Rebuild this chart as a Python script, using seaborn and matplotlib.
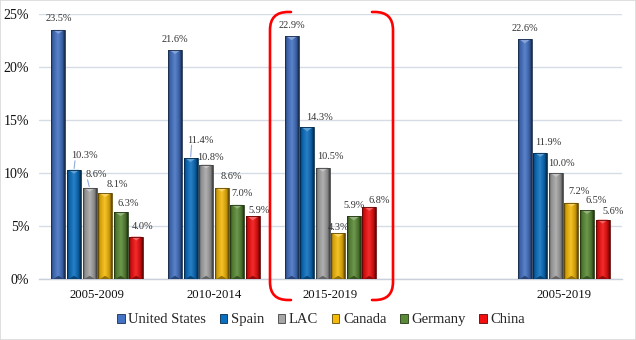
import numpy as np
import pandas as pd
import matplotlib
matplotlib.use("Agg")
import matplotlib.pyplot as plt
import seaborn as sns
from matplotlib.colors import LinearSegmentedColormap, to_rgb
from matplotlib.patches import Patch, Polygon, Rectangle, PathPatch
from matplotlib.path import Path
from matplotlib.transforms import IdentityTransform

# ---- data -------------------------------------------------------------
periods = ["2005-2009", "2010-2014", "2015-2019", " ", "2005-2019"]
shown_periods = ["2005-2009", "2010-2014", "2015-2019", "2005-2019"]
countries = ["United States", "Spain", "LAC", "Canada", "Germany", "China"]
united_states = [23.5, 21.6, 22.9, 22.6]
spain = [10.3, 11.4, 14.3, 11.9]
lac = [8.6, 10.8, 10.5, 10.0]
canada = [8.1, 8.6, 4.3, 7.2]
germany = [6.3, 7.0, 5.9, 6.5]
china = [4.0, 5.9, 6.8, 5.6]
y_ticks = [0, 5, 10, 15, 20, 25]

series = [united_states, spain, lac, canada, germany, china]
df = pd.DataFrame(
    [(p, c, v) for c, vals in zip(countries, series) for p, v in zip(shown_periods, vals)],
    columns=["period", "country", "share"],
)

# ---- style ------------------------------------------------------------
colors = ["#4472C4", "#0B6FC0", "#A6A6A6", "#F5BA0A", "#5A8A36", "#F20F0F"]
W, H, DPI = 636, 340, 100

# label offsets in pixels: (dx, dy above bar top, leader line)
label_offsets = {
    ("2005-2009", "Spain"): (10, 14, True),
    ("2005-2009", "LAC"): (7, 13, True),
    ("2005-2009", "Canada"): (12, 9, False),
    ("2005-2009", "Germany"): (8, 9, False),
    ("2005-2009", "China"): (6, 10, False),
    ("2010-2014", "Spain"): (10, 18, True),
    ("2010-2014", "LAC"): (4, 7, False),
    ("2010-2014", "Canada"): (10, 11, False),
    ("2010-2014", "Germany"): (5, 11, False),
    ("2010-2014", "China"): (6, 6, False),
    ("2015-2019", "Spain"): (12, 10, False),
    ("2015-2019", "LAC"): (8, 11, False),
    ("2015-2019", "Canada"): (0, 6, False),
    ("2015-2019", "Germany"): (0, 11, False),
    ("2015-2019", "China"): (10, 6, False),
    ("2005-2019", "Spain"): (8, 10, False),
    ("2005-2019", "LAC"): (6, 10, False),
    ("2005-2019", "Canada"): (8, 11, False),
    ("2005-2019", "Germany"): (9, 10, False),
    ("2005-2019", "China"): (11, 8, False),
}

sns.set_theme(style="white")
plt.rcParams["font.family"] = ["Liberation Serif", "DejaVu Serif"]

fig = plt.figure(figsize=(W / DPI, H / DPI), dpi=DPI)
ax_left, ax_right, ax_top, ax_bottom = 39, 622, 14, 279
ax = fig.add_axes([ax_left / W, 1 - ax_bottom / H,
                   (ax_right - ax_left) / W, (ax_bottom - ax_top) / H])

sns.barplot(data=df, x="period", y="share", hue="country", order=periods,
            hue_order=countries, palette=colors, saturation=1, width=0.8,
            gap=0.1, legend=False, ax=ax, edgecolor="none", linewidth=0)

ax.set_xlim(-0.5, len(periods) - 0.5)
ax.set_ylim(0, 25)
px_y = 25 / (ax_bottom - ax_top)          # data units per pixel (vertical)


def shade(c, f):
    r = np.array(to_rgb(c))
    return tuple(np.clip(r * f, 0, 1)) if f < 1 else tuple(r + (1 - r) * (f - 1))


# bevelled bars
for container, col in zip(ax.containers, colors):
    cmap = LinearSegmentedColormap.from_list(
        "bev", [(0, shade(col, 0.45)), (0.14, shade(col, 0.85)),
                (0.5, shade(col, 1.12)), (0.84, shade(col, 0.8)),
                (1, shade(col, 0.35))])
    for bar in container:
        x0, w, h = bar.get_x(), bar.get_width(), bar.get_height()
        if not np.isfinite(h) or h <= 0:
            continue
        grad = np.linspace(0, 1, 64)[None, :]
        im = ax.imshow(grad, extent=[x0, x0 + w, 0, h], aspect="auto",
                       cmap=cmap, zorder=2, interpolation="bilinear")
        im.set_clip_path(bar)
        d = 4 * px_y
        ax.add_patch(Polygon([(x0 + w * 0.12, h), (x0 + w * 0.88, h), (x0 + w / 2, h - d)],
                             closed=True, facecolor=shade(col, 1.35), edgecolor="none",
                             zorder=3))
        ax.add_patch(Polygon([(x0 + w * 0.12, 0), (x0 + w * 0.88, 0), (x0 + w / 2, d * 0.8)],
                             closed=True, facecolor=shade(col, 0.6), edgecolor="none",
                             zorder=3))
        ax.add_patch(Rectangle((x0, 0), w, h, fill=False,
                               edgecolor=shade(col, 0.4), lw=0.6, zorder=3))

ax.set_xlim(-0.5, len(periods) - 0.5)
ax.set_ylim(0, 25)

# value labels
for container, country in zip(ax.containers, countries):
    for bar in container:
        h = bar.get_height()
        if not np.isfinite(h) or h <= 0:
            continue
        xc = bar.get_x() + bar.get_width() / 2
        period = periods[int(round(xc))]
        dx, dy, leader = label_offsets.get((period, country), (0, 11, False))
        ax.annotate(f"{h:.1f}%", (xc, h), xytext=(dx, dy), textcoords="offset pixels",
                    ha="center", va="center", fontsize=7.4, color="#333333",
                    zorder=5, annotation_clip=False)
        if leader:
            ax.annotate("", (xc, h), xytext=(dx - 9, dy - 5),
                        textcoords="offset pixels",
                        arrowprops=dict(arrowstyle="-", color="#8FAADC", lw=0.8,
                                        shrinkA=0, shrinkB=1), zorder=4)

# axes styling
ax.set_yticks(y_ticks)
ax.set_yticklabels([f"{t}%" for t in y_ticks])
ax.set_xlabel("")
ax.set_ylabel("")
ax.yaxis.grid(True, color="#D6DCE5", lw=1)
ax.set_axisbelow(True)
for s in ["left", "top", "right"]:
    ax.spines[s].set_visible(False)
ax.spines["bottom"].set_color("#C9D0DB")
ax.spines["bottom"].set_linewidth(1)
ax.spines["bottom"].set_zorder(1)
ax.tick_params(axis="y", length=0, pad=7, labelsize=10, labelcolor="#111111")
ax.tick_params(axis="x", length=0, pad=7, labelsize=9.2, labelcolor="#111111")

# legend
handles = [Patch(facecolor=c, edgecolor=shade(c, 0.4), lw=0.6) for c in colors]
fig.legend(handles, countries, loc="center", bbox_to_anchor=(0.505, 0.059),
           ncol=6, frameon=False, fontsize=10.5, handlelength=0.5,
           handleheight=0.55, handletextpad=0.25, columnspacing=0.95,
           borderaxespad=0)

# highlight brackets around the 2015-2019 group (display pixels)
def bracket(x_end, x_side, top, bottom, r):
    yt, yb = H - top, H - bottom
    sgn = 1 if x_end > x_side else -1
    verts = [(x_end, yt), (x_side + sgn * r, yt), (x_side, yt), (x_side, yt - r),
             (x_side, yb + r), (x_side, yb), (x_side + sgn * r, yb), (x_end, yb)]
    codes = [Path.MOVETO, Path.LINETO, Path.CURVE3, Path.CURVE3,
             Path.LINETO, Path.CURVE3, Path.CURVE3, Path.LINETO]
    return PathPatch(Path(verts, codes), fill=False, edgecolor="#FF0000", lw=1.9,
                     transform=IdentityTransform(), capstyle="round")

fig.patches.append(bracket(291, 270, 12, 300, 18))
fig.patches.append(bracket(372, 393, 12, 300, 18))

# thin frame around the figure
fig.patches.append(Rectangle((0, 0), 1, 1, transform=fig.transFigure, fill=False,
                             edgecolor="#D9D9D9", lw=1.2))

fig.savefig("out.png", dpi=DPI, facecolor="white")
